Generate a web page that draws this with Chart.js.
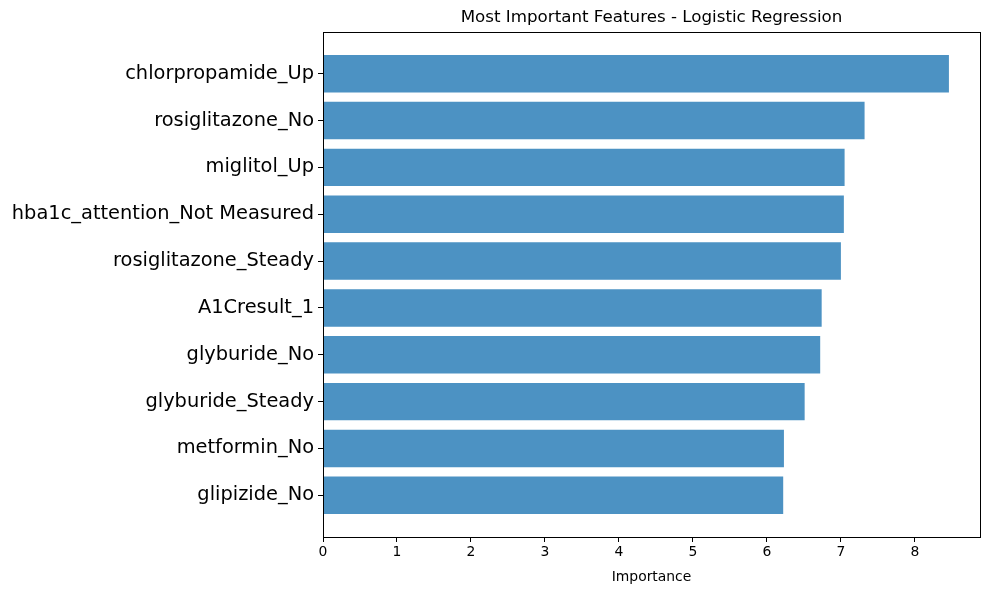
<!DOCTYPE html>
<html><head><meta charset="utf-8">
<script src="https://cdn.jsdelivr.net/npm/chart.js@4"></script>
<style>html,body{margin:0;padding:0;background:#fff}#w{width:989px;height:590px}</style>
</head><body><div id="w"><canvas id="c"></canvas></div>
<script>
const features = ["glipizide_No","metformin_No","glyburide_Steady","glyburide_No","A1Cresult_1","rosiglitazone_Steady","hba1c_attention_Not Measured","miglitol_Up","rosiglitazone_No","chlorpropamide_Up"];
const importance = [6.22,6.23,6.51,6.72,6.74,7.00,7.04,7.05,7.32,8.46];
const xTicks = [0,1,2,3,4,5,6,7,8];
const titleText = 'Most Important Features - Logistic Regression';

const frame = {id:'frame', afterDatasetsDraw(ch){const a=ch.chartArea,c=ch.ctx;c.save();c.strokeStyle='#000';c.lineWidth=1;c.strokeRect(a.left+0.5,a.top+0.5,a.right-a.left,a.bottom-a.top);
  c.fillStyle='#000';c.font='16.7px "DejaVu Sans"';c.textAlign='center';c.textBaseline='bottom';c.fillText(titleText,(a.left+a.right)/2,a.top-6);c.restore();}};
new Chart(document.getElementById('c'),{
  type:'bar',
  data:{datasets:[{data:importance.map((v,i)=>({x:v,y:i})),backgroundColor:'rgba(31,119,180,0.8)',barPercentage:0.8,categoryPercentage:1}]},
  options:{indexAxis:'y',responsive:true,maintainAspectRatio:false,animation:false,
    layout:{padding:{left:0,right:9,top:32,bottom:0}},
    plugins:{legend:{display:false},tooltip:{enabled:false},title:{display:false}},
    scales:{
      y:{type:'linear',min:-0.89,max:9.89,offset:false,
        afterBuildTicks(s){s.ticks=features.map((f,i)=>({value:i}));},
        afterFit(s){s.width=323;},
        ticks:{autoSkip:false,color:'#000',font:{family:'DejaVu Sans',size:19.4},callback:(v)=>features[v],padding:4},
        grid:{display:true,offset:false,drawOnChartArea:false,tickLength:5,color:'#000'},border:{display:false}},
      x:{type:'linear',min:0,max:8.88,
        afterBuildTicks(s){s.ticks=xTicks.map(v=>({value:v}));},
        afterFit(s){s.height=53;},
        ticks:{color:'#000',font:{family:'DejaVu Sans',size:13.9},padding:2},
        title:{display:true,text:'Importance',color:'#000',font:{family:'DejaVu Sans',size:13.9},padding:{top:2}},
        grid:{display:true,offset:false,drawOnChartArea:false,tickLength:5,color:'#000'},border:{display:false}}
    }},
  plugins:[frame]
});
</script></body></html>
